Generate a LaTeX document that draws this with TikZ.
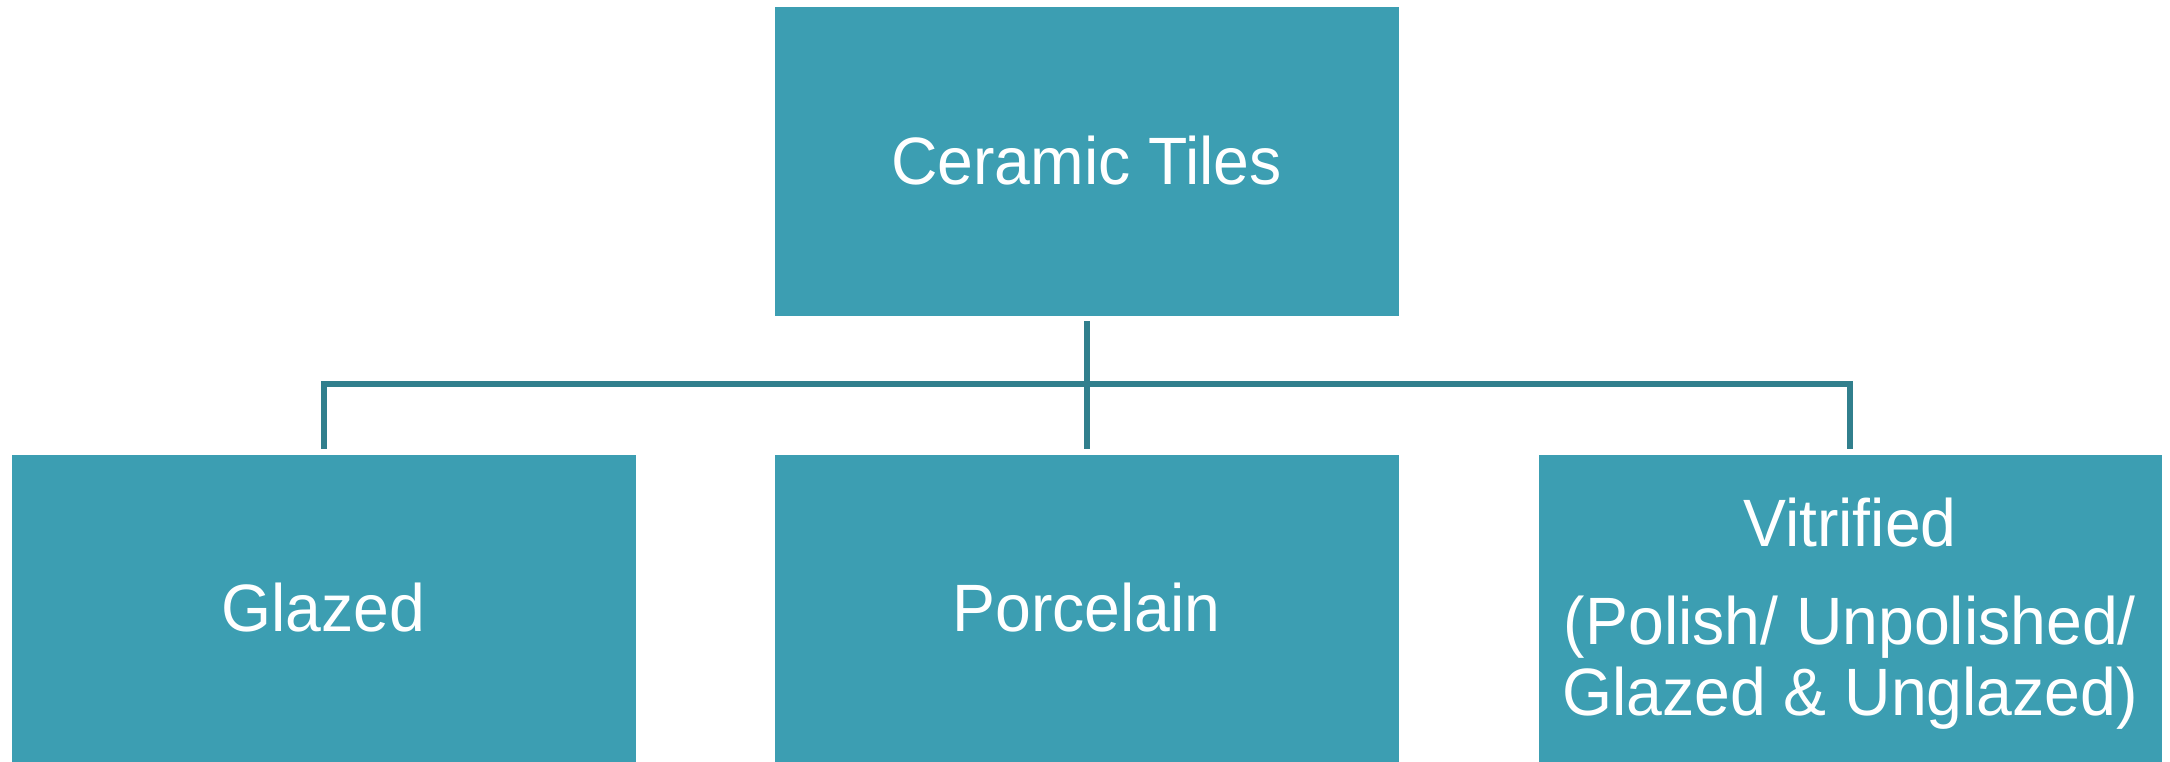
\documentclass[tikz,border=0pt]{standalone}
\usepackage{fontspec}
\setmainfont[FakeStretch=0.96]{Liberation Sans}
\definecolor{boxfill}{HTML}{3C9EB2}
\definecolor{linecol}{HTML}{317F8D}
\tikzset{
  tilebox/.style={rectangle, fill=boxfill, draw=white, line width=0.4pt, text=white, inner sep=0pt, align=center,
    font=\fontsize{33.5}{35.5}\selectfont},
  conn/.style={draw=linecol, line width=3pt, line join=miter}
}
\begin{document}
\begin{tikzpicture}[x=0.5pt,y=-0.5pt]
\useasboundingbox (0,0) rectangle (2170,761);
\node[tilebox, minimum width=312.5pt, minimum height=155pt] (top) at (1086.5,161) {Ceramic Tiles};
\node[tilebox, minimum width=312.5pt, minimum height=154pt] (left) at (323.5,608) {Glazed};
\node[tilebox, minimum width=312.5pt, minimum height=154pt] (mid) at (1086.5,608) {Porcelain};
\node[tilebox, minimum width=312pt, minimum height=154pt] (right) at (1850,608) {};
\node[text=white, align=center, inner sep=0pt, font=\fontsize{33.5}{35.5}\selectfont] (rtext) at (1850,614) {Vitrified\\[13.5pt](Polish/ Unpolished/\\Glazed \& Unglazed)};
\coordinate (hub) at (1086.5,384);
\draw[conn] ([yshift=-2.5pt]top.south) -- ([yshift=2.5pt]mid.north);
\draw[conn] ([yshift=2.5pt]left.north) |- (hub) -| ([yshift=2.5pt]right.north);
\end{tikzpicture}
\end{document}
